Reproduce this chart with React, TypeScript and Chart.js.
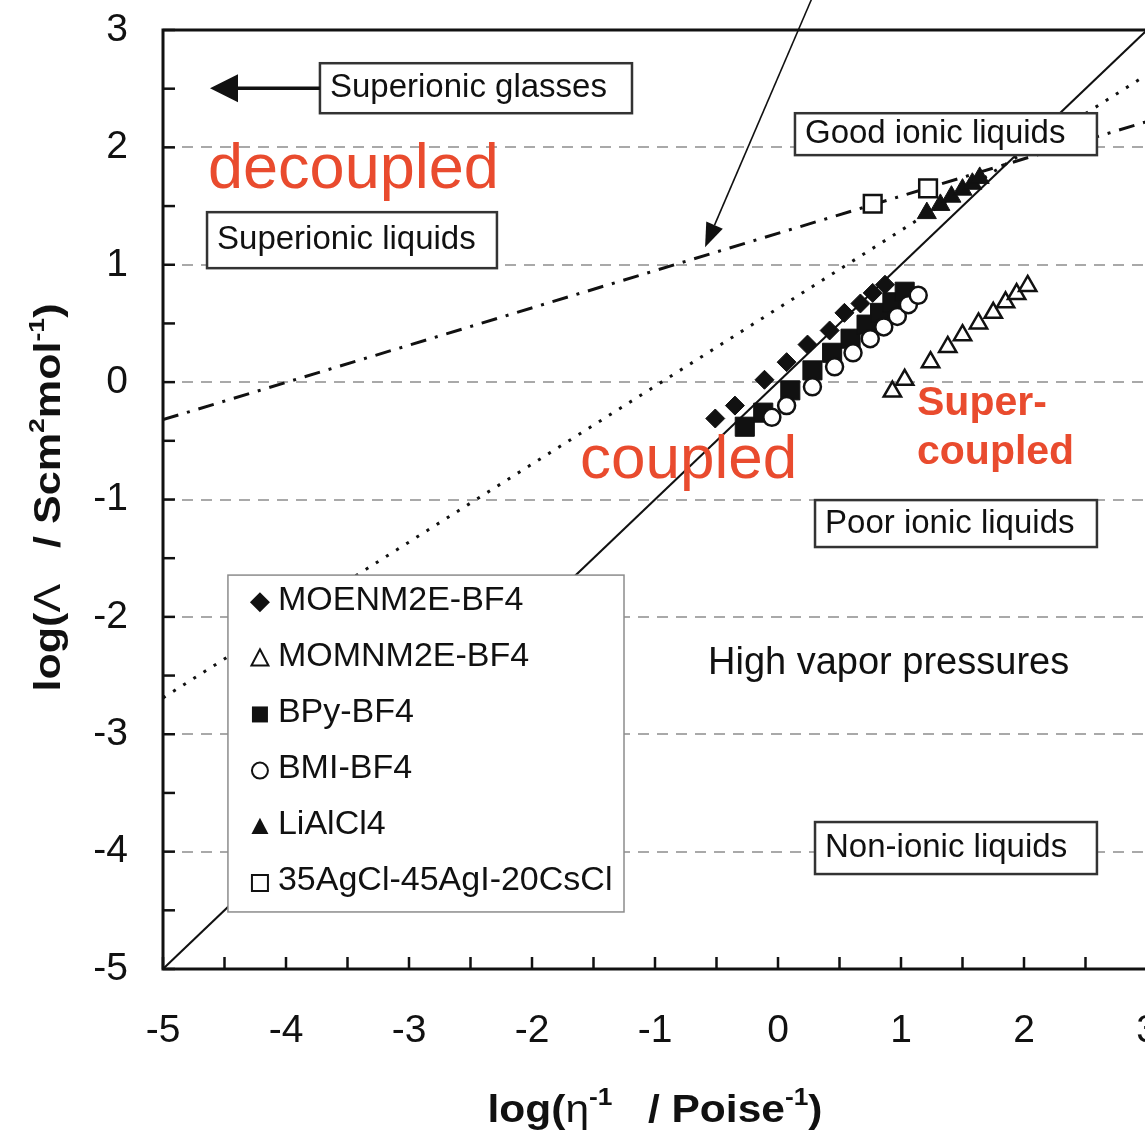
import React, { useEffect, useRef } from 'react';
import { Chart, registerables } from 'chart.js';

Chart.register(...registerables);

// Walden plot: log(molar conductivity) against log(fluidity)
const moenm2eX = [-0.51, -0.35, -0.11, 0.07, 0.24, 0.42, 0.54, 0.67, 0.77, 0.87];
const moenm2eY = [-0.31, -0.2, 0.02, 0.17, 0.32, 0.44, 0.59, 0.67, 0.76, 0.83];

const momnm2eX = [0.93, 1.03, 1.24, 1.38, 1.5, 1.63, 1.75, 1.85, 1.94, 2.03];
const momnm2eY = [-0.08, 0.02, 0.17, 0.3, 0.4, 0.5, 0.59, 0.68, 0.75, 0.82];

const bpyX = [-0.27, -0.12, 0.1, 0.28, 0.44, 0.59, 0.72, 0.83, 0.93, 1.03];
const bpyY = [-0.38, -0.26, -0.07, 0.1, 0.25, 0.37, 0.49, 0.59, 0.68, 0.77];

const bmiX = [-0.05, 0.07, 0.28, 0.46, 0.61, 0.75, 0.86, 0.97, 1.06, 1.14];
const bmiY = [-0.3, -0.2, -0.04, 0.13, 0.25, 0.37, 0.47, 0.56, 0.66, 0.74];

const lialcl4X = [1.21, 1.32, 1.41, 1.5, 1.58, 1.64];
const lialcl4Y = [1.44, 1.51, 1.58, 1.64, 1.69, 1.74];

const glassX = [0.77, 1.22];
const glassY = [1.52, 1.65];

// reference lines: ideal (KCl) line, LiAlCl4 trend, superionic glass trend
const idealX = [-5, 3];
const idealY = [-5, 3];
const lialcl4FitX = [-5, 3];
const lialcl4FitY = [-2.69, 2.62];
const glassFitX = [-5, 3];
const glassFitY = [-0.32, 2.22];

const axisMin = -5;
const axisMax = 3;
const tickStep = 0.5;
const gridLevels = [-4, -3, -2, -1, 0, 1, 2];

const FONT = "'Liberation Sans', Arial, Helvetica, sans-serif";
const RED = '#e94b2e';
const INK = '#111';

// the canvas sits 30px above the page top so the plot frame lands at y=30
const CANVAS_SHIFT = 30;

const zip = (xs: number[], ys: number[]) => xs.map((x, i) => ({ x, y: ys[i] }));

type Series = {
  label: string;
  xs: number[];
  ys: number[];
  shape: 'diamond' | 'triangle' | 'square' | 'circle';
  filled: boolean;
  radius: number;
  order: number;
};

const series: Series[] = [
  { label: 'MOENM2E-BF4', xs: moenm2eX, ys: moenm2eY, shape: 'diamond', filled: true, radius: 9.5, order: 2 },
  { label: 'MOMNM2E-BF4', xs: momnm2eX, ys: momnm2eY, shape: 'triangle', filled: false, radius: 10, order: 3 },
  { label: 'BPy-BF4', xs: bpyX, ys: bpyY, shape: 'square', filled: true, radius: 13.5, order: 1 },
  { label: 'BMI-BF4', xs: bmiX, ys: bmiY, shape: 'circle', filled: false, radius: 8.5, order: 0 },
  { label: 'LiAlCl4', xs: lialcl4X, ys: lialcl4Y, shape: 'triangle', filled: true, radius: 11, order: 4 },
  { label: '35AgCl-45AgI-20CsCl', xs: glassX, ys: glassY, shape: 'square', filled: false, radius: 12.5, order: 5 },
];

const styleMap: Record<string, string> = {
  diamond: 'rectRot',
  triangle: 'triangle',
  square: 'rect',
  circle: 'circle',
};

// annotation boxes, in data units
const boxLabels = [
  { text: 'Superionic glasses', x1: -3.724, x2: -1.187, y1: 2.717, y2: 2.291 },
  { text: 'Superionic liquids', x1: -4.642, x2: -2.285, y1: 1.448, y2: 0.971 },
  { text: 'Good ionic liquids', x1: 0.138, x2: 2.593, y1: 2.291, y2: 1.934 },
  { text: 'Poor ionic liquids', x1: 0.301, x2: 2.593, y1: -1.005, y2: -1.405 },
  { text: 'Non-ionic liquids', x1: 0.301, x2: 2.593, y1: -3.748, y2: -4.191 },
];

type Piece = { t: string; sup?: boolean; thin?: boolean };

function drawRich(ctx: CanvasRenderingContext2D, pieces: Piece[], size: number, target: number) {
  const fontOf = (p: Piece) => {
    const s = p.sup ? size * 0.62 : size;
    return `${p.thin ? 'normal' : 'bold'} ${s}px ${FONT}`;
  };
  let total = 0;
  const widths = pieces.map((p) => {
    ctx.font = fontOf(p);
    const w = ctx.measureText(p.t).width;
    total += w;
    return w;
  });
  const k = target / total;
  ctx.save();
  ctx.scale(k, 1);
  ctx.textBaseline = 'alphabetic';
  ctx.textAlign = 'left';
  ctx.fillStyle = INK;
  let cx = -total / 2;
  pieces.forEach((p, i) => {
    ctx.font = fontOf(p);
    ctx.fillText(p.t, cx, p.sup ? -size * 0.45 : 0);
    cx += widths[i];
  });
  ctx.restore();
}

function drawArrow(
  ctx: CanvasRenderingContext2D,
  x0: number, y0: number, x1: number, y1: number,
  headLen: number, headHalf: number, lw: number
) {
  const ang = Math.atan2(y1 - y0, x1 - x0);
  const bx = x1 - Math.cos(ang) * headLen;
  const by = y1 - Math.sin(ang) * headLen;
  ctx.strokeStyle = INK;
  ctx.fillStyle = INK;
  ctx.lineWidth = lw;
  ctx.beginPath();
  ctx.moveTo(x0, y0);
  ctx.lineTo(bx, by);
  ctx.stroke();
  ctx.beginPath();
  ctx.moveTo(x1, y1);
  ctx.lineTo(bx + Math.sin(ang) * headHalf, by - Math.cos(ang) * headHalf);
  ctx.lineTo(bx - Math.sin(ang) * headHalf, by + Math.cos(ang) * headHalf);
  ctx.closePath();
  ctx.fill();
}

function drawMarker(ctx: CanvasRenderingContext2D, s: Series, x: number, y: number, r: number) {
  ctx.beginPath();
  if (s.shape === 'diamond') {
    ctx.moveTo(x, y - r);
    ctx.lineTo(x + r, y);
    ctx.lineTo(x, y + r);
    ctx.lineTo(x - r, y);
    ctx.closePath();
  } else if (s.shape === 'triangle') {
    const h = r * 0.9;
    ctx.moveTo(x, y - h);
    ctx.lineTo(x + r * 0.85, y + h * 0.8);
    ctx.lineTo(x - r * 0.85, y + h * 0.8);
    ctx.closePath();
  } else if (s.shape === 'square') {
    const h = r * 0.8;
    ctx.rect(x - h, y - h, 2 * h, 2 * h);
  } else {
    ctx.arc(x, y, r * 0.8, 0, Math.PI * 2);
  }
  if (s.filled) {
    ctx.fillStyle = INK;
    ctx.fill();
  } else {
    ctx.fillStyle = '#fff';
    ctx.fill();
    ctx.strokeStyle = INK;
    ctx.lineWidth = 2;
    ctx.stroke();
  }
}

const waldenDecor = {
  id: 'waldenDecor',
  beforeDatasetsDraw(chart: any) {
    const { ctx, chartArea: a, scales } = chart;
    const y = scales.y;
    ctx.save();
    ctx.strokeStyle = '#a9a9a9';
    ctx.lineWidth = 2;
    ctx.setLineDash([11, 8]);
    for (const v of gridLevels) {
      const py = Math.round(y.getPixelForValue(v));
      ctx.beginPath();
      ctx.moveTo(a.left, py);
      ctx.lineTo(a.right, py);
      ctx.stroke();
    }
    ctx.restore();
  },
  afterDatasetsDraw(chart: any) {
    const { ctx, chartArea: a, scales } = chart;
    const x = scales.x;
    const y = scales.y;
    const px = (v: number) => x.getPixelForValue(v);
    const py = (v: number) => y.getPixelForValue(v);
    ctx.save();

    // frame
    ctx.strokeStyle = INK;
    ctx.lineWidth = 3;
    ctx.strokeRect(a.left, a.top, a.right - a.left, a.bottom - a.top);

    // inward tick marks
    ctx.lineWidth = 2.5;
    for (let v = axisMin; v <= axisMax + 1e-9; v += tickStep) {
      const tx = px(v);
      ctx.beginPath();
      ctx.moveTo(tx, a.bottom);
      ctx.lineTo(tx, a.bottom - 12);
      ctx.stroke();
      const ty = py(v);
      ctx.beginPath();
      ctx.moveTo(a.left, ty);
      ctx.lineTo(a.left + 12, ty);
      ctx.stroke();
    }

    // arrow pointing at the glass trend line
    drawArrow(ctx, px(0.276), py(3.271), px(-0.593), py(1.15), 24, 9, 1.6);

    // region boxes
    ctx.textBaseline = 'middle';
    ctx.textAlign = 'left';
    for (const b of boxLabels) {
      const l = px(b.x1), r = px(b.x2), t = py(b.y1), bt = py(b.y2);
      ctx.fillStyle = '#fff';
      ctx.fillRect(l, t, r - l, bt - t);
      ctx.strokeStyle = '#333';
      ctx.lineWidth = 2.5;
      ctx.strokeRect(l, t, r - l, bt - t);
      ctx.fillStyle = INK;
      ctx.font = `33px ${FONT}`;
      ctx.fillText(b.text, l + 10, (t + bt) / 2);
    }

    // arrow to the left of "Superionic glasses"
    drawArrow(ctx, px(-3.724), py(2.504), px(-4.618), py(2.504), 28, 14, 3.5);

    ctx.fillStyle = INK;
    ctx.font = `38px ${FONT}`;
    ctx.fillText('High vapor pressures', px(-0.569), py(-2.394));

    // coupling regimes
    ctx.textBaseline = 'alphabetic';
    ctx.fillStyle = RED;
    ctx.font = `63px ${FONT}`;
    ctx.fillText('decoupled', px(-4.634), py(1.652));
    ctx.font = `62px ${FONT}`;
    ctx.fillText('coupled', px(-1.61), py(-0.818));
    ctx.font = `bold 41px ${FONT}`;
    ctx.fillText('Super-', px(1.13), py(-0.281));
    ctx.fillText('coupled', px(1.13), py(-0.698));

    // legend
    const ll = px(-4.472), lr = px(-1.252), lt = py(-1.644), lb = py(-4.514);
    ctx.fillStyle = '#fff';
    ctx.fillRect(ll, lt, lr - ll, lb - lt);
    ctx.strokeStyle = '#8c8c8c';
    ctx.lineWidth = 1.5;
    ctx.strokeRect(ll, lt, lr - ll, lb - lt);
    const rowH = (lb - lt) / series.length;
    series.forEach((s, i) => {
      const cy = lt + rowH * (i + 0.5) - 3;
      drawMarker(ctx, s, ll + 32, cy + 2, 10);
      ctx.fillStyle = INK;
      ctx.font = `34px ${FONT}`;
      ctx.textBaseline = 'middle';
      ctx.fillText(s.label, ll + 50, cy);
    });

    // axis titles
    ctx.save();
    ctx.translate((a.left + a.right) / 2, a.bottom + 153);
    drawRich(
      ctx,
      [
        { t: 'log(' },
        { t: 'η', thin: true },
        { t: '-1', sup: true },
        { t: '   / Poise' },
        { t: '-1', sup: true },
        { t: ')' },
      ],
      38,
      335
    );
    ctx.restore();

    ctx.save();
    ctx.translate(60, (a.top + a.bottom) / 2 - 2);
    ctx.rotate(-Math.PI / 2);
    drawRich(
      ctx,
      [
        { t: 'log(' },
        { t: 'Λ', thin: true },
        { t: '   / Scm' },
        { t: '2', sup: true },
        { t: 'mol' },
        { t: '-1', sup: true },
        { t: ')' },
      ],
      36,
      388
    );
    ctx.restore();

    ctx.restore();
  },
};

export default function App() {
  const ref = useRef<HTMLCanvasElement>(null);

  useEffect(() => {
    const canvas = ref.current;
    if (!canvas) return;

    const pointSets = series.map((s) => ({
      label: s.label,
      data: zip(s.xs, s.ys),
      pointStyle: styleMap[s.shape],
      pointRadius: s.radius,
      pointBackgroundColor: s.filled ? INK : '#fff',
      pointBorderColor: INK,
      pointBorderWidth: s.filled ? 1 : 2.5,
      showLine: false,
      order: s.order,
    }));

    const lineSets = [
      { label: 'ideal', data: zip(idealX, idealY), borderDash: [], borderWidth: 2 },
      { label: 'LiAlCl4 trend', data: zip(lialcl4FitX, lialcl4FitY), borderDash: [3, 9], borderWidth: 3 },
      { label: 'glass trend', data: zip(glassFitX, glassFitY), borderDash: [16, 9, 3, 9], borderWidth: 3 },
    ].map((l, i) => ({
      ...l,
      showLine: true,
      pointRadius: 0,
      borderColor: INK,
      backgroundColor: INK,
      fill: false,
      order: 10 + i,
    }));

    const tickCallback = (v: any) => {
      const n = Number(v);
      return Math.abs(n - Math.round(n)) < 1e-9 ? String(Math.round(n)) : '';
    };

    const chart = new Chart(canvas, {
      type: 'scatter',
      data: { datasets: [...pointSets, ...lineSets] as any },
      options: {
        animation: false,
        responsive: false,
        devicePixelRatio: 1,
        events: [],
        layout: { padding: { top: 60, right: 50, left: 0, bottom: 0 } },
        plugins: {
          legend: { display: false },
          tooltip: { enabled: false },
          title: { display: false },
        },
        scales: {
          x: {
            type: 'linear',
            min: axisMin,
            max: axisMax,
            grid: { display: false },
            border: { display: false },
            ticks: {
              stepSize: tickStep,
              autoSkip: false,
              maxRotation: 0,
              padding: 31,
              color: INK,
              font: { family: FONT, size: 39 },
              callback: tickCallback,
            },
            afterFit: (s: any) => {
              s.height = 166;
            },
          },
          y: {
            type: 'linear',
            min: axisMin,
            max: axisMax,
            grid: { display: false },
            border: { display: false },
            ticks: {
              stepSize: tickStep,
              autoSkip: false,
              padding: 27,
              color: INK,
              font: { family: FONT, size: 39 },
              callback: tickCallback,
            },
            afterFit: (s: any) => {
              s.width = 163;
            },
          },
        },
      },
      plugins: [waldenDecor],
    });

    return () => chart.destroy();
  }, []);

  return (
    <div
      style={{
        position: 'absolute',
        left: 0,
        top: 0,
        width: 1145,
        height: 1135,
        overflow: 'hidden',
        background: '#fff',
      }}
    >
      <canvas
        ref={ref}
        width={1197}
        height={1165}
        style={{ position: 'absolute', left: 0, top: -CANVAS_SHIFT, display: 'block', width: 1197, height: 1165 }}
      />
    </div>
  );
}
